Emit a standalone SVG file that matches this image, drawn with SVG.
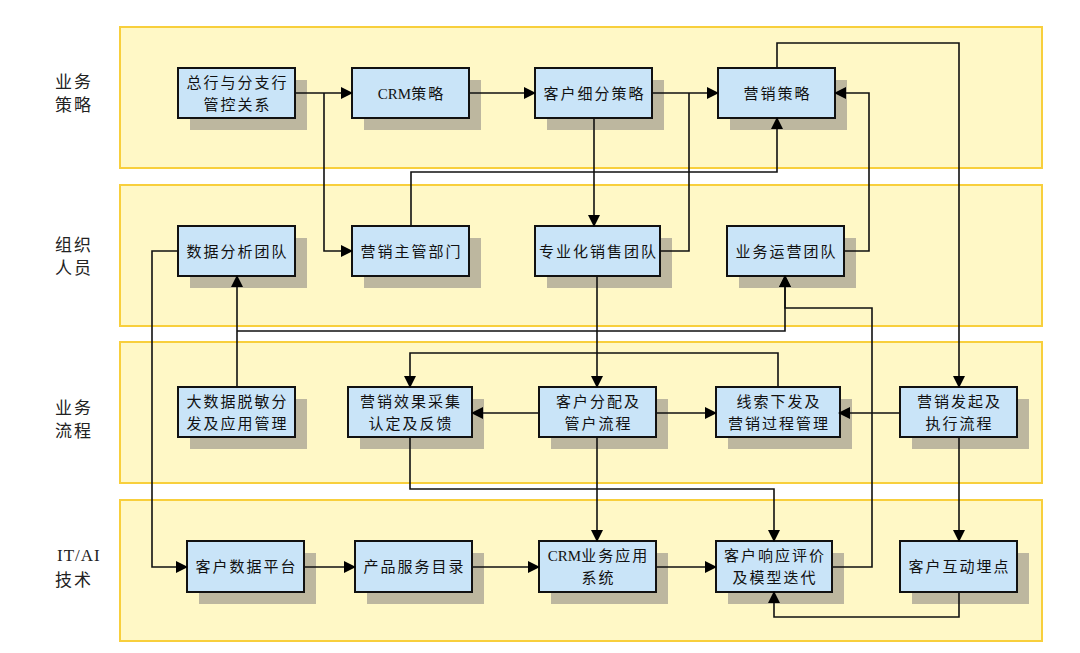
<svg xmlns="http://www.w3.org/2000/svg" width="1080" height="653" viewBox="0 0 1080 653">
<defs>
<marker id="arr" markerUnits="userSpaceOnUse" markerWidth="12" markerHeight="12" viewBox="0 0 12 12" refX="11" refY="6" orient="auto">
<path d="M0,0 L12,6 L0,12 Z" fill="#000"/>
</marker>
</defs>
<style>
.lane{fill:#FFF8C6;stroke:#F8CF3C;stroke-width:2}
.lbl{font-family:"Liberation Serif","Noto Sans CJK SC",serif;font-size:17px;fill:#222;letter-spacing:2px}
.shadow{fill:#BDB79F}
.box{fill:#C9E4F8;stroke:#111;stroke-width:2}
.t{font-family:"Liberation Serif","Noto Sans CJK SC",serif;font-size:15px;fill:#111;text-anchor:middle;letter-spacing:2px}
.lat{letter-spacing:0}
.c{fill:none;stroke:#111;stroke-width:1.6}
.a{marker-end:url(#arr)}
</style>
<rect width="1080" height="653" fill="#fff"/>
<g id="lanes">
<rect class="lane" x="120" y="27" width="922" height="141"/>
<rect class="lane" x="120" y="185" width="922" height="141"/>
<rect class="lane" x="120" y="342" width="922" height="141"/>
<rect class="lane" x="120" y="500" width="922" height="141"/>
<text class="lbl" x="55" y="88">业务</text>
<text class="lbl" x="55" y="111">策略</text>
<text class="lbl" x="55" y="251">组织</text>
<text class="lbl" x="55" y="274">人员</text>
<text class="lbl" x="55" y="414">业务</text>
<text class="lbl" x="55" y="437">流程</text>
<text class="lbl" x="57" y="561" style="letter-spacing:1px">IT/AI</text>
<text class="lbl" x="55" y="586">技术</text>
</g>
<g id="n1"><rect class="shadow" x="190" y="80" width="117" height="50"/><rect class="box" x="178" y="68" width="117" height="50"/><text class="t" x="237.5" y="88">总行与分支行</text><text class="t" x="237.5" y="110">管控关系</text></g>
<g id="n2"><rect class="shadow" x="364" y="80" width="117" height="50"/><rect class="box" x="352" y="68" width="117" height="50"/><text class="t" x="411.5" y="99"><tspan class="lat">CRM</tspan>策略</text></g>
<g id="n3"><rect class="shadow" x="547" y="80" width="117" height="50"/><rect class="box" x="535" y="68" width="117" height="50"/><text class="t" x="594.5" y="99">客户细分策略</text></g>
<g id="n4"><rect class="shadow" x="730" y="80" width="117" height="50"/><rect class="box" x="718" y="68" width="117" height="50"/><text class="t" x="777.5" y="99">营销策略</text></g>
<g id="n5"><rect class="shadow" x="190" y="238" width="117" height="50"/><rect class="box" x="178" y="226" width="117" height="50"/><text class="t" x="237.5" y="257">数据分析团队</text></g>
<g id="n6"><rect class="shadow" x="364" y="238" width="117" height="50"/><rect class="box" x="352" y="226" width="117" height="50"/><text class="t" x="411.5" y="257">营销主管部门</text></g>
<g id="n7"><rect class="shadow" x="547" y="238" width="125" height="50"/><rect class="box" x="535" y="226" width="125" height="50"/><text class="t" x="598.5" y="257">专业化销售团队</text></g>
<g id="n8"><rect class="shadow" x="739" y="238" width="117" height="50"/><rect class="box" x="727" y="226" width="117" height="50"/><text class="t" x="786.5" y="257">业务运营团队</text></g>
<g id="n9"><rect class="shadow" x="190" y="399" width="117" height="50"/><rect class="box" x="178" y="387" width="117" height="50"/><text class="t" x="237.5" y="407">大数据脱敏分</text><text class="t" x="237.5" y="429">发及应用管理</text></g>
<g id="n10"><rect class="shadow" x="360" y="399" width="124" height="50"/><rect class="box" x="348" y="387" width="124" height="50"/><text class="t" x="411" y="407">营销效果采集</text><text class="t" x="411" y="429">认定及反馈</text></g>
<g id="n11"><rect class="shadow" x="551" y="399" width="117" height="50"/><rect class="box" x="539" y="387" width="117" height="50"/><text class="t" x="598.5" y="407">客户分配及</text><text class="t" x="598.5" y="429">管户流程</text></g>
<g id="n12"><rect class="shadow" x="728" y="399" width="124" height="50"/><rect class="box" x="716" y="387" width="124" height="50"/><text class="t" x="779" y="407">线索下发及</text><text class="t" x="779" y="429">营销过程管理</text></g>
<g id="n13"><rect class="shadow" x="912" y="399" width="117" height="50"/><rect class="box" x="900" y="387" width="117" height="50"/><text class="t" x="959.5" y="407">营销发起及</text><text class="t" x="959.5" y="429">执行流程</text></g>
<g id="n14"><rect class="shadow" x="199" y="553" width="117" height="51"/><rect class="box" x="187" y="541" width="117" height="51"/><text class="t" x="246.5" y="572">客户数据平台</text></g>
<g id="n15"><rect class="shadow" x="367" y="553" width="117" height="51"/><rect class="box" x="355" y="541" width="117" height="51"/><text class="t" x="414.5" y="572">产品服务目录</text></g>
<g id="n16"><rect class="shadow" x="551" y="553" width="117" height="51"/><rect class="box" x="539" y="541" width="117" height="51"/><text class="t" x="598.5" y="561"><tspan class="lat">CRM</tspan>业务应用</text><text class="t" x="598.5" y="583">系统</text></g>
<g id="n17"><rect class="shadow" x="728" y="553" width="116" height="51"/><rect class="box" x="716" y="541" width="116" height="51"/><text class="t" x="775" y="561">客户响应评价</text><text class="t" x="775" y="583">及模型迭代</text></g>
<g id="n18"><rect class="shadow" x="912" y="553" width="117" height="51"/><rect class="box" x="900" y="541" width="117" height="51"/><text class="t" x="959.5" y="572">客户互动埋点</text></g>
<g id="connectors">
<path class="c a" d="M295,93 H352"/>
<path class="c a" d="M324,93 V251 H352"/>
<path class="c a" d="M469,93 H535"/>
<path class="c a" d="M652,93 H718"/>
<path class="c a" d="M594,118 V226"/>
<path class="c" d="M660,251 H689 V93"/>
<path class="c a" d="M411,226 V172 H777 V118"/>
<path class="c a" d="M843,251 H869 V93 H835"/>
<path class="c a" d="M777,68 V43 H959 V387"/>
<path class="c a" d="M832,567 H872 V308 H785 V276"/>
<path class="c a" d="M237,387 V276"/>
<path class="c a" d="M237,331 H785 V276"/>
<path class="c a" d="M178,251 H152 V567 H187"/>
<path class="c a" d="M597,276 V387"/>
<path class="c a" d="M778,387 V353 H410 V387"/>
<path class="c a" d="M539,413 H472"/>
<path class="c a" d="M656,413 H716"/>
<path class="c a" d="M900,413 H839"/>
<path class="c a" d="M959,437 V541"/>
<path class="c a" d="M597,437 V541"/>
<path class="c a" d="M410,437 V489 H774 V541"/>
<path class="c a" d="M303,567 H355"/>
<path class="c a" d="M472,567 H539"/>
<path class="c a" d="M656,567 H716"/>
<path class="c a" d="M959,592 V617 H774 V592"/>
</g>
</svg>
